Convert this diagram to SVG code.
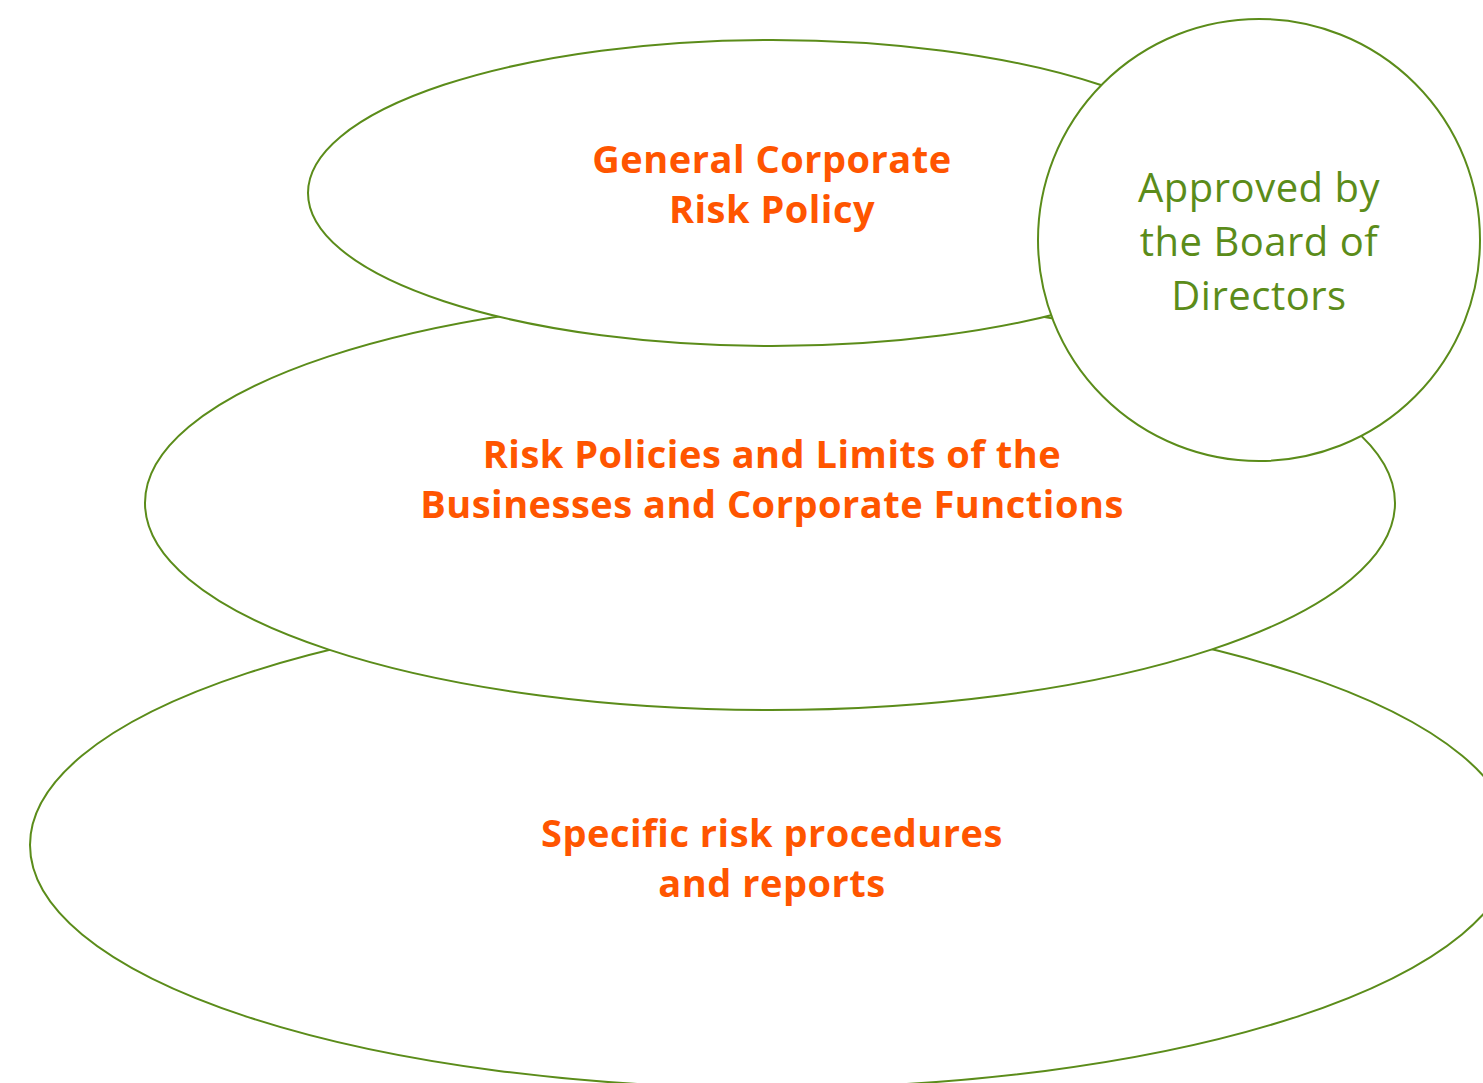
<svg xmlns="http://www.w3.org/2000/svg" width="1483" height="1083" viewBox="0 0 1483 1083">
<style>
.shape{fill:#ffffff;stroke:#5b8c1a;stroke-width:2}
.lbl{font-family:"Open Sans","Liberation Sans",sans-serif;font-weight:700;font-size:38px;letter-spacing:0.5px;fill:#ff5500;text-anchor:middle}
.note{font-family:"Open Sans","Liberation Sans",sans-serif;font-weight:400;font-size:40px;letter-spacing:0.5px;fill:#5b8c1a;text-anchor:middle}
</style>
<rect width="1483" height="1083" fill="#ffffff"/>
<g id="connectors"></g>
<g id="node-procedures">
<ellipse class="shape" cx="772" cy="845" rx="742" ry="243"/>
<text class="lbl" x="772" y="847">Specific risk procedures</text>
<text class="lbl" x="772" y="897">and reports</text>
</g>
<g id="node-policies">
<ellipse class="shape" cx="770" cy="503" rx="625" ry="207"/>
<text class="lbl" x="772" y="468">Risk Policies and Limits of the</text>
<text class="lbl" x="772" y="518">Businesses and Corporate Functions</text>
</g>
<g id="node-general">
<ellipse class="shape" cx="772" cy="193" rx="464" ry="153"/>
<text class="lbl" x="772" y="173">General Corporate</text>
<text class="lbl" x="772" y="223">Risk Policy</text>
</g>
<g id="node-board">
<circle class="shape" cx="1259" cy="240" r="221"/>
<text class="note" x="1259" y="202">Approved by</text>
<text class="note" x="1259" y="256">the Board of</text>
<text class="note" x="1259" y="310">Directors</text>
</g>
</svg>
